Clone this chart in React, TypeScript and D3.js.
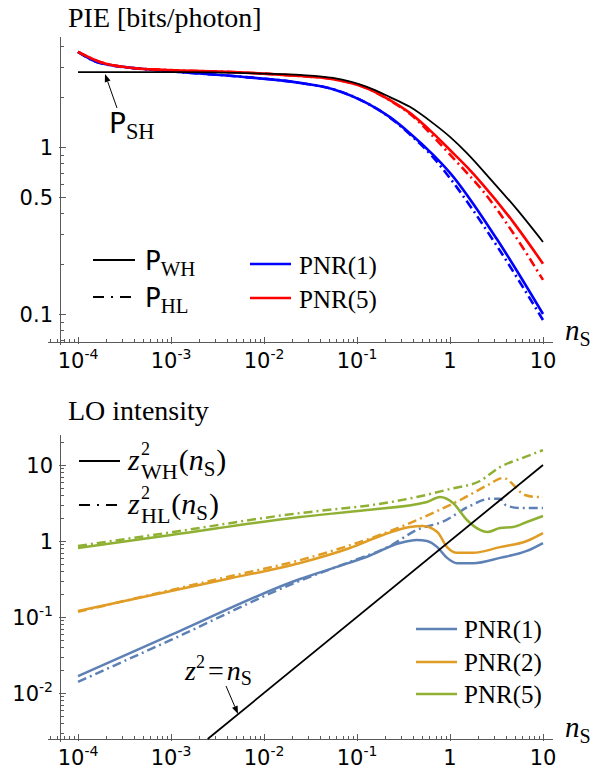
import React from "react";
import * as d3 from "d3";

// ---------- data ----------
// Top panel: PIE [bits/photon] vs n_S
const nTopWH = [1e-4, 1e-3, 1e-2, 0.0244, 0.0552, 0.128, 0.226, 0.37, 0.656, 1, 1.52, 2.78, 5.3, 10];
const pieWH = [2.81, 2.81, 2.75, 2.7, 2.59, 2.29, 1.99, 1.74, 1.39, 1.15, 0.92, 0.634, 0.42, 0.27];

const nTopPNR5 = [1e-4, 1.73e-4, 3.9e-4, 9.1e-4, 4.6e-3, 0.0244, 0.0552, 0.128, 0.226, 0.37, 0.656, 1, 1.52, 2.23, 4.7, 10];
const piePNR5 = [3.71, 3.23, 2.97, 2.89, 2.81, 2.66, 2.55, 2.25, 1.91, 1.6, 1.21, 0.96, 0.76, 0.6, 0.36, 0.2];
const piePNR5HL = [3.71, 3.23, 2.97, 2.89, 2.81, 2.66, 2.55, 2.25, 1.9, 1.58, 1.16, 0.9, 0.7, 0.55, 0.31, 0.16];

const nTopPNR1 = [1e-4, 1.73e-4, 9.1e-4, 4.6e-3, 0.0244, 0.0552, 0.128, 0.226, 0.37, 0.656, 1, 3.2, 10];
const piePNR1 = [3.71, 3.18, 2.85, 2.66, 2.42, 2.22, 1.83, 1.51, 1.21, 0.9, 0.7, 0.28, 0.1];
const piePNR1HL = [3.71, 3.18, 2.85, 2.66, 2.42, 2.22, 1.83, 1.5, 1.19, 0.87, 0.65, 0.255, 0.092];

// Bottom panel: LO intensity vs n_S
const nLoPNR1 = [1e-4, 1e-3, 0.0244, 0.055, 0.128, 0.29, 0.44, 0.566, 0.73, 0.93, 1.19, 1.77, 3.45, 6.7, 10];
const loPNR1 = [0.0167, 0.058, 0.316, 0.44, 0.62, 0.94, 1.03, 1.0, 0.83, 0.6, 0.51, 0.51, 0.6, 0.74, 0.94];
const nLoPNR1HL = [1e-4, 1e-3, 0.0244, 0.08, 0.226, 0.44, 0.84, 1.64, 2.7, 3.45, 4.0, 5.66, 10];
const loPNR1HL = [0.014, 0.05, 0.3, 0.52, 0.86, 1.4, 1.8, 2.89, 3.6, 3.6, 2.95, 2.72, 2.72];

const nLoPNR2 = [1e-4, 0.004, 0.0244, 0.084, 0.19, 0.37, 0.51, 0.73, 0.93, 1.19, 1.77, 3.45, 6.7, 10];
const loPNR2 = [0.12, 0.316, 0.514, 0.81, 1.2, 1.53, 1.57, 1.31, 0.83, 0.7, 0.7, 0.83, 1.0, 1.27];
const nLoPNR2HL = [1e-4, 0.004, 0.0244, 0.328, 0.69, 1.35, 2.56, 3.72, 6.4, 8.6, 10];
const loPNR2HL = [0.117, 0.336, 0.56, 1.62, 2.41, 3.57, 5.46, 6.75, 4.03, 3.79, 3.79];

const nLoPNR5 = [1e-4, 1e-3, 0.0244, 0.128, 0.566, 0.78, 1.08, 1.52, 2.1, 2.5, 3.45, 4.75, 6.7, 10];
const loPNR5 = [0.81, 1.2, 2.07, 2.56, 3.26, 3.79, 3.16, 1.89, 1.4, 1.31, 1.48, 1.53, 1.78, 2.13];
const nLoPNR5HL = [1e-4, 1e-3, 0.0244, 0.061, 0.122, 0.44, 1, 2.1, 3.45, 5.94, 10];
const loPNR5HL = [0.86, 1.3, 2.33, 2.64, 2.89, 3.79, 4.83, 6.16, 9.4, 12.3, 15.7];

const nLine = [0.00248, 10];
const zLine = [0.00248, 10];

const xTickVals = [1e-4, 1e-3, 1e-2, 1e-1, 1, 10];
const xTickText: [string, string][] = [["10", "-4"], ["10", "-3"], ["10", "-2"], ["10", "-1"], ["1", ""], ["10", ""]];
const topYTickVals = [1, 0.5, 0.1];
const topYTickText = ["1", "0.5", "0.1"];
const botYTickVals = [10, 1, 0.1, 0.01];
const botYTickText: [string, string][] = [["10", ""], ["1", ""], ["10", "-1"], ["10", "-2"]];

// ---------- styling ----------
const AX = "#5a5a5a";
const BLUE = "#0000ff";
const RED = "#ff0000";
const C1 = "#5E81B5";
const C2 = "#E09C24";
const C3 = "#8FB032";
const SERIF = "Liberation Serif, Times New Roman, serif";
const SANS = "DejaVu Sans, sans-serif";
const DD = "9,4,2,4";

const xS = d3.scaleLog().domain([1e-4, 10]).range([78, 543]);
const yTopS = d3.scaleLog().domain([0.1, 1]).range([314, 147]);
const yBotS = d3.scaleLog().domain([0.01, 10]).range([693, 465]);

const X_MIN = 48;
const X_MAX = 553;
const Y_AX_X = 60;

function allLogTicks(lo: number, hi: number) {
  const out: number[] = [];
  for (let k = -6; k <= 2; k++) for (let m = 1; m <= 9; m++) {
    const v = m * Math.pow(10, k);
    if (v >= lo * 0.9999 && v <= hi * 1.0001) out.push(v);
  }
  return out;
}
const isDecade = (v: number) => Math.abs(Math.log10(v) - Math.round(Math.log10(v))) < 1e-9;

function path(ns: number[], vs: number[], yS: d3.ScaleLogarithmic<number, number>) {
  return (
    d3
      .line<number>()
      .x((_, i) => xS(ns[i]))
      .y((d) => yS(d))
      .curve(d3.curveMonotoneX)(vs) || ""
  );
}

function Arrow({ x1, y1, x2, y2 }: { x1: number; y1: number; x2: number; y2: number }) {
  const dx = x2 - x1, dy = y2 - y1;
  const L = Math.hypot(dx, dy);
  const ux = dx / L, uy = dy / L;
  const hl = 8, hw = 3;
  const bx = x2 - ux * hl, by = y2 - uy * hl;
  const pts = `${x2},${y2} ${bx - uy * hw},${by + ux * hw} ${bx + uy * hw},${by - ux * hw}`;
  return (
    <g>
      <line x1={x1} y1={y1} x2={bx} y2={by} stroke="#000" strokeWidth={1} />
      <polygon points={pts} fill="#000" />
    </g>
  );
}

function Axes({ yS, axisY, yTop, majorVals }: { yS: d3.ScaleLogarithmic<number, number>; axisY: number; yTop: number; majorVals: number[] }) {
  const xt = allLogTicks(xS.invert(X_MIN), xS.invert(X_MAX));
  const yt = allLogTicks(yS.invert(axisY), yS.invert(yTop));
  return (
    <g stroke={AX} strokeWidth={1} fill="none">
      <line x1={X_MIN} y1={axisY + 0.5} x2={X_MAX} y2={axisY + 0.5} />
      <line x1={Y_AX_X + 0.5} y1={yTop} x2={Y_AX_X + 0.5} y2={axisY + 3} />
      {xt.map((v, i) => {
        const px = Math.round(xS(v)) + 0.5;
        const major = isDecade(v);
        return <line key={"x" + i} x1={px} x2={px} y1={axisY + (major ? 2 : 0.5)} y2={axisY - (major ? 5 : 3)} />;
      })}
      {yt.map((v, i) => {
        const py = Math.round(yS(v)) + 0.5;
        const major = majorVals.some((m) => Math.abs(m - v) < 1e-9 * m);
        return <line key={"y" + i} x1={Y_AX_X - (major ? 1 : 0)} x2={Y_AX_X + (major ? 6 : 4)} y1={py} y2={py} />;
      })}
    </g>
  );
}

function XLabels({ axisY }: { axisY: number }) {
  return (
    <g fontFamily={SANS} fontSize={21} fill="#000">
      {xTickVals.map((v, i) => (
        <text key={i} x={xS(v)} y={axisY + 26} textAnchor="middle">
          {xTickText[i][0]}
          {xTickText[i][1] && (
            <tspan dy={-9} fontSize={14}>
              {xTickText[i][1]}
            </tspan>
          )}
        </text>
      ))}
    </g>
  );
}

function NS({ x, y }: { x: number; y: number }) {
  return (
    <text x={x} y={y} fontFamily={SERIF} fontSize={29} fill="#000">
      <tspan fontStyle="italic">n</tspan>
      <tspan dy={6} fontSize={20}>S</tspan>
    </text>
  );
}

function PLabel({ x, y, sub, size = 25 }: { x: number; y: number; sub: string; size?: number }) {
  return (
    <text x={x} y={y} fill="#000">
      <tspan fontFamily={SANS} fontSize={size}>P</tspan>
      <tspan fontFamily={SERIF} fontSize={size * 0.8} dy={6}>{sub}</tspan>
    </text>
  );
}

function ZLabel({ x, y, sub }: { x: number; y: number; sub: string }) {
  return (
    <g fontFamily={SERIF} fill="#000">
      <text x={x} y={y} fontSize={30}>
        <tspan fontStyle="italic">z</tspan>
      </text>
      <text x={x + 13} y={y - 15} fontSize={18}>2</text>
      <text x={x + 13} y={y + 9} fontSize={22}>
        {sub}
        <tspan dx={1} dy={-9} fontSize={30}>(</tspan>
        <tspan fontStyle="italic" fontSize={30}>n</tspan>
        <tspan dy={6} fontSize={21}>S</tspan>
        <tspan dx={1} dy={-6} fontSize={30}>)</tspan>
      </text>
    </g>
  );
}

export default function App() {
  const topY = 342;
  const botY = 739;
  return (
    <svg width={612} height={772} viewBox="0 0 612 772" style={{ position: "absolute", left: 0, top: 0, background: "#fff" }}>
      <rect width={612} height={772} fill="#fff" />
      {/* ---------- TOP PANEL ---------- */}
      <text x={68} y={27} fontFamily={SERIF} fontSize={28} fill="#000">PIE [bits/photon]</text>
      <Axes yS={yTopS} axisY={topY} yTop={37} majorVals={topYTickVals} />
      <g fontFamily={SANS} fontSize={21} fill="#000" textAnchor="end">
        {topYTickVals.map((v, i) => (
          <text key={i} x={53} y={yTopS(v) + 7.5}>{topYTickText[i]}</text>
        ))}
      </g>
      <XLabels axisY={topY} />
      <NS x={565} y={340} />

      <g fill="none" strokeLinejoin="round">
        <path d={path(nTopPNR1, piePNR1HL, yTopS)} stroke={BLUE} strokeWidth={2.6} strokeDasharray={DD} />
        <path d={path(nTopPNR1, piePNR1, yTopS)} stroke={BLUE} strokeWidth={2.6} />
        <path d={path(nTopPNR5, piePNR5HL, yTopS)} stroke={RED} strokeWidth={2.6} strokeDasharray={DD} />
        <path d={path(nTopPNR5, piePNR5, yTopS)} stroke={RED} strokeWidth={2.6} />
        <path d={path(nTopWH, pieWH, yTopS)} stroke="#000" strokeWidth={1.8} />
      </g>

      {/* P_SH annotation */}
      <Arrow x1={117} y1={108} x2={105} y2={74} />
      <PLabel x={109} y={133} sub="SH" size={28} />

      {/* top legend */}
      <line x1={93} x2={135} y1={260} y2={260} stroke="#000" strokeWidth={2} />
      <PLabel x={145} y={270} sub="WH" size={26} />
      <line x1={93} x2={135} y1={297} y2={297} stroke="#000" strokeWidth={2} strokeDasharray="11,7,2,7" />
      <PLabel x={145} y={307} sub="HL" size={26} />
      <line x1={250} x2={291} y1={264} y2={264} stroke={BLUE} strokeWidth={2.6} />
      <text x={299} y={274} fontFamily={SERIF} fontSize={25} fill="#000">PNR(1)</text>
      <line x1={250} x2={291} y1={298} y2={298} stroke={RED} strokeWidth={2.6} />
      <text x={299} y={308} fontFamily={SERIF} fontSize={25} fill="#000">PNR(5)</text>

      {/* ---------- BOTTOM PANEL ---------- */}
      <text x={68} y={420} fontFamily={SERIF} fontSize={28} fill="#000">LO intensity</text>
      <Axes yS={yBotS} axisY={botY} yTop={435} majorVals={botYTickVals} />
      <g fontFamily={SANS} fontSize={21} fill="#000" textAnchor="end">
        {botYTickVals.map((v, i) => (
          <text key={i} x={53} y={yBotS(v) + 7.5}>
            {botYTickText[i][0]}
            {botYTickText[i][1] && (
              <tspan dy={-9} fontSize={14}>{botYTickText[i][1]}</tspan>
            )}
          </text>
        ))}
      </g>
      <XLabels axisY={botY} />
      <NS x={565} y={737} />

      <g fill="none" strokeLinejoin="round">
        <path d={path(nLoPNR1HL, loPNR1HL, yBotS)} stroke={C1} strokeWidth={2.5} strokeDasharray={DD} />
        <path d={path(nLoPNR1, loPNR1, yBotS)} stroke={C1} strokeWidth={2.5} />
        <path d={path(nLoPNR2HL, loPNR2HL, yBotS)} stroke={C2} strokeWidth={2.5} strokeDasharray={DD} />
        <path d={path(nLoPNR2, loPNR2, yBotS)} stroke={C2} strokeWidth={2.5} />
        <path d={path(nLoPNR5HL, loPNR5HL, yBotS)} stroke={C3} strokeWidth={2.5} strokeDasharray={DD} />
        <path d={path(nLoPNR5, loPNR5, yBotS)} stroke={C3} strokeWidth={2.5} />
        <path d={path(nLine, zLine, yBotS)} stroke="#000" strokeWidth={1.8} />
      </g>

      {/* z^2 = n_S annotation */}
      <text x={185} y={680} fontFamily={SERIF} fontSize={28} fill="#000">
        <tspan fontStyle="italic">z</tspan>
        <tspan dy={-12} fontSize={18}>2</tspan>
        <tspan dx={3} dy={12}>=</tspan>
        <tspan dx={3} fontStyle="italic">n</tspan>
        <tspan dy={5} fontSize={20}>S</tspan>
      </text>
      <Arrow x1={226} y1={686} x2={238} y2={714} />

      {/* bottom legend */}
      <line x1={79} x2={120} y1={461} y2={461} stroke="#000" strokeWidth={2} />
      <ZLabel x={128} y={470} sub="WH" />
      <line x1={79} x2={120} y1={505} y2={505} stroke="#000" strokeWidth={2} strokeDasharray="11,7,2,7" />
      <ZLabel x={128} y={514} sub="HL" />

      <line x1={416} x2={457} y1={629} y2={629} stroke={C1} strokeWidth={2.5} />
      <text x={464} y={638} fontFamily={SERIF} fontSize={25} fill="#000">PNR(1)</text>
      <line x1={416} x2={457} y1={662} y2={662} stroke={C2} strokeWidth={2.5} />
      <text x={464} y={671} fontFamily={SERIF} fontSize={25} fill="#000">PNR(2)</text>
      <line x1={416} x2={457} y1={694} y2={694} stroke={C3} strokeWidth={2.5} />
      <text x={464} y={703} fontFamily={SERIF} fontSize={25} fill="#000">PNR(5)</text>
    </svg>
  );
}
